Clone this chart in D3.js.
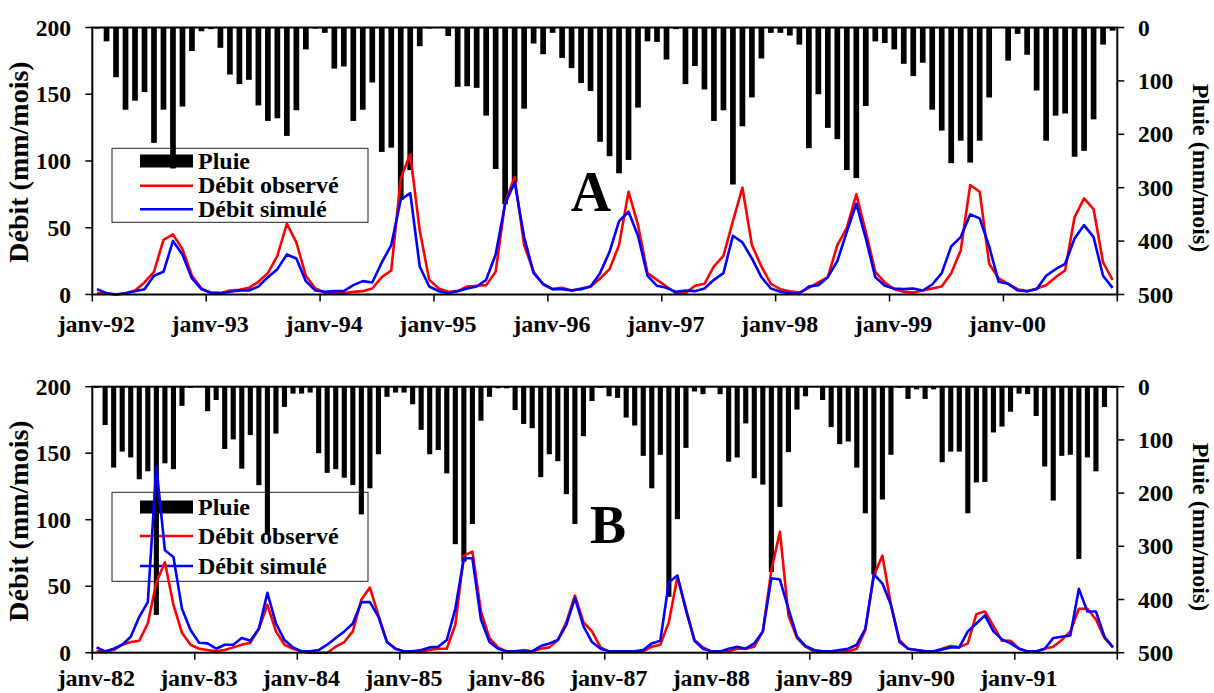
<!DOCTYPE html>
<html>
<head>
<meta charset="utf-8">
<script src="https://cdn.jsdelivr.net/npm/d3@7"></script>
<style>
  body { margin: 0; background: #fff; }
  svg { display: block; }
  text { font-family: "Liberation Serif", "Times New Roman", serif; font-weight: bold; fill: #000; }
</style>
</head>
<body>
<svg id="chart" width="1214" height="693"></svg>
<script>
// ---- Panel A : janv-92 .. déc-00 (monthly) ----
const yearLabelsA = ['janv-92', 'janv-93', 'janv-94', 'janv-95', 'janv-96', 'janv-97', 'janv-98', 'janv-99', 'janv-00'];

const rainA = [
  2, 26, 93, 154, 137, 121, 216, 154, 264, 148, 44, 7,
  3, 38, 88, 106, 98, 146, 175, 170, 203, 155, 41, 2,
  10, 77, 73, 175, 154, 103, 233, 225, 323, 267, 35, 2,
  1, 16, 111, 110, 113, 165, 265, 331, 290, 152, 30, 50,
  10, 57, 76, 104, 119, 214, 241, 273, 248, 150, 26, 27,
  60, 3, 106, 72, 116, 175, 155, 294, 185, 131, 58, 10,
  10, 15, 32, 226, 125, 188, 209, 267, 282, 147, 26, 29,
  41, 68, 91, 66, 154, 193, 254, 212, 253, 212, 131, 1,
  62, 12, 51, 118, 212, 165, 161, 242, 231, 172, 32, 6
];

const obsA = [
  1, 1, 0, 1, 3, 9, 17, 41, 45, 34, 14, 4.5,
  1, 1, 3, 3.5, 5, 9.5, 16, 29, 53, 39, 14, 4.5,
  1.5, 1, 1, 2, 2.5, 4.5, 13, 18, 87, 105, 48, 11,
  4.5, 2, 2.5, 6, 6.5, 7, 17, 69, 88, 37, 17, 7.5,
  4, 5, 3, 4.5, 6, 12, 19, 37, 77, 52, 16, 11,
  6, 1, 1, 6.5, 8, 21, 29, 55, 80, 37, 21, 8,
  4, 2.5, 1.5, 5, 9, 13, 37, 50, 75, 47, 17, 9,
  4, 2, 1.5, 3, 4.5, 6, 16, 33, 82, 77, 23, 12,
  8, 4, 2.5, 4.5, 7, 13, 18, 58, 72, 64, 24, 11
];

const simA = [
  4, 1, 0, 1, 2.5, 4, 14, 17, 40, 30, 12, 4,
  1.5, 1, 2, 3, 3, 6, 13, 19, 30, 27, 10, 3,
  2, 2.5, 2.5, 7, 10, 9, 24, 37, 71, 76, 21, 6,
  2.5, 1, 2.5, 4.5, 6, 11, 30, 68, 84, 43, 16, 8,
  4, 4, 3, 4, 6, 16, 32, 55, 62, 44, 14, 6.5,
  5, 2, 3, 2.5, 4.5, 11, 16, 44, 39, 27, 13, 4.5,
  2, 1, 0.5, 6, 7, 13, 25, 47, 68, 42, 13, 6.5,
  4.5, 4, 4.5, 3, 7.5, 16, 36, 43, 60, 57, 36, 9.5,
  8, 3, 2.5, 4, 14, 19, 23, 42, 52, 43, 14, 5
];

// ---- Panel B : janv-82 .. déc-91 (monthly) ----
const yearLabelsB = ['janv-82', 'janv-83', 'janv-84', 'janv-85', 'janv-86', 'janv-87', 'janv-88', 'janv-89', 'janv-90', 'janv-91'];

const rainB = [
  2, 72, 152, 122, 133, 174, 159, 429, 144, 155, 36, 2,
  0, 46, 25, 117, 99, 154, 91, 185, 278, 88, 38, 13,
  13, 11, 125, 162, 155, 171, 185, 240, 191, 127, 19, 11,
  11, 33, 81, 127, 119, 163, 296, 329, 258, 64, 19, 3,
  3, 44, 70, 78, 170, 127, 140, 202, 258, 93, 27, 2,
  18, 21, 58, 73, 130, 191, 128, 395, 249, 115, 9, 14,
  1, 14, 141, 133, 69, 172, 184, 348, 226, 123, 43, 18,
  0, 25, 76, 108, 103, 152, 238, 353, 212, 128, 2, 23,
  5, 23, 5, 142, 122, 122, 238, 180, 179, 86, 75, 47,
  13, 14, 55, 150, 214, 130, 128, 324, 133, 159, 38, 2
];

const obsB = [
  1, 1, 2, 6, 8, 9, 22, 53, 68, 36, 15, 6,
  3, 2, 1, 2, 4, 6, 7.5, 18, 36, 16, 6, 3,
  1, 0, 0, 0, 4.5, 8, 16, 40, 49, 28, 8, 3,
  1, 1, 1, 2, 3, 3, 21, 73, 76, 31, 11, 4,
  1, 1, 2, 1, 3, 4, 9.5, 23, 43, 23, 16, 4,
  1, 1, 1, 1, 1, 4.5, 6, 23, 57, 33, 9.5, 4,
  1, 1, 1, 3, 3, 4.5, 16, 62, 91, 28, 11, 4.5,
  1, 1, 1, 1, 1, 3, 17, 58, 73, 36, 9.5, 3,
  2, 1, 1, 3, 5, 4, 7, 29, 31, 20, 9, 9,
  3, 1, 1, 3, 4.5, 9.5, 16, 33, 33, 25, 11, 4
];

const simB = [
  4, 1, 3, 6, 12, 27, 38, 140, 77, 72, 33, 17,
  7.5, 7, 3, 6, 6, 11, 9, 18, 45, 22, 9.5, 4,
  1, 1, 2, 6, 11, 16, 22, 38, 38, 27, 8, 3,
  1, 1, 2, 4, 4.5, 9.5, 33, 71, 71, 25, 8, 3,
  1, 1, 1, 1, 5, 7, 9.5, 21, 41, 20, 8, 3,
  1, 1, 1, 1, 2, 7, 9, 53, 58, 32, 9, 3,
  1, 1, 3, 4.5, 3, 7, 16, 56, 55, 33, 12, 5,
  2, 1, 1, 2, 3, 6, 18, 59, 52, 36, 8, 3,
  2, 1, 1, 2.5, 4, 4, 16, 22, 28, 16, 10, 7,
  3, 1, 1, 3, 11, 12, 13, 48, 31, 31, 12, 4
];

const debitTicks = [0, 50, 100, 150, 200];
const pluieTicks = [0, 100, 200, 300, 400, 500];
const legendLabels = ['Pluie', 'Débit observé', 'Débit simulé'];

const svg = d3.select('#chart');
const LEFT = 92.3, RIGHT = 1117.3;

function drawPanel(p) {
  const g = svg.append('g');
  const n = p.rain.length;

  const x = d3.scaleBand().domain(d3.range(n)).range([LEFT, RIGHT]).padding(0);
  const yQ = d3.scaleLinear().domain([0, 200]).range([p.bottom, p.top]);
  const yP = d3.scaleLinear().domain([0, 500]).range([p.top, p.bottom]);
  const cx = i => x(i) + x.bandwidth() / 2;
  const barW = x.bandwidth() * 0.6;

  // legend (drawn first, marks go over it like in the original)
  const lg = g.append('g');
  lg.append('rect')
    .attr('x', 112).attr('y', p.legend.top)
    .attr('width', 256).attr('height', p.legend.height)
    .attr('fill', 'none').attr('stroke', '#222').attr('stroke-width', 1);
  lg.append('rect')
    .attr('x', 140).attr('y', p.legend.rows[0] - 6.5)
    .attr('width', 53).attr('height', 13).attr('fill', '#000');
  lg.append('line')
    .attr('x1', 140).attr('x2', 193).attr('y1', p.legend.rows[1]).attr('y2', p.legend.rows[1])
    .attr('stroke', '#ff0000').attr('stroke-width', 2.6);
  lg.append('line')
    .attr('x1', 140).attr('x2', 193).attr('y1', p.legend.rows[2]).attr('y2', p.legend.rows[2])
    .attr('stroke', '#0000ff').attr('stroke-width', 2.6);
  lg.selectAll('text.leg')
    .data(legendLabels)
    .join('text')
    .attr('class', 'leg')
    .attr('x', 198)
    .attr('y', (d, i) => p.legend.rows[i] + 7.5)
    .attr('font-size', '24px')
    .text(d => d);

  // rain bars hanging from the top (reversed secondary axis)
  g.append('g')
    .selectAll('rect')
    .data(p.rain)
    .join('rect')
    .attr('x', (d, i) => cx(i) - barW / 2)
    .attr('y', p.top)
    .attr('width', barW)
    .attr('height', d => yP(d) - p.top)
    .attr('fill', '#000');

  // discharge lines
  const line = d3.line().x((d, i) => cx(i)).y(d => yQ(d));
  g.append('path').datum(p.obs)
    .attr('d', line).attr('fill', 'none')
    .attr('stroke', '#ff0000').attr('stroke-width', 2.6).attr('stroke-linejoin', 'round');
  g.append('path').datum(p.sim)
    .attr('d', line).attr('fill', 'none')
    .attr('stroke', '#0000ff').attr('stroke-width', 2.6).attr('stroke-linejoin', 'round');

  // frame
  g.append('rect')
    .attr('x', LEFT).attr('y', p.top)
    .attr('width', RIGHT - LEFT).attr('height', p.bottom - p.top)
    .attr('fill', 'none').attr('stroke', '#000').attr('stroke-width', 2);

  // left axis (Débit)
  g.append('g').selectAll('line')
    .data(debitTicks).join('line')
    .attr('x1', LEFT - 7).attr('x2', LEFT)
    .attr('y1', d => yQ(d)).attr('y2', d => yQ(d))
    .attr('stroke', '#000').attr('stroke-width', 1.5);
  g.append('g').selectAll('text')
    .data(debitTicks).join('text')
    .attr('x', 71).attr('y', d => yQ(d) + 8)
    .attr('text-anchor', 'end').attr('font-size', '23.5px')
    .text(d => d);

  // right axis (Pluie)
  g.append('g').selectAll('line')
    .data(pluieTicks).join('line')
    .attr('x1', RIGHT).attr('x2', RIGHT + 7)
    .attr('y1', d => yP(d)).attr('y2', d => yP(d))
    .attr('stroke', '#000').attr('stroke-width', 1.5);
  g.append('g').selectAll('text')
    .data(pluieTicks).join('text')
    .attr('x', 1138).attr('y', d => yP(d) + 8)
    .attr('font-size', '23.5px')
    .text(d => d);

  // x axis: tick at each January, label under it
  const janIdx = d3.range(0, n + 1, 12);
  g.append('g').selectAll('line')
    .data(janIdx).join('line')
    .attr('x1', i => i < n ? x(i) : RIGHT).attr('x2', i => i < n ? x(i) : RIGHT)
    .attr('y1', p.bottom).attr('y2', p.bottom + 7)
    .attr('stroke', '#000').attr('stroke-width', 1.5);
  g.append('g').selectAll('text')
    .data(p.years).join('text')
    .attr('x', (d, i) => x(i * 12) + 4)
    .attr('y', p.labelY)
    .attr('text-anchor', 'middle').attr('font-size', '24px')
    .text(d => d);

  // axis titles
  g.append('text')
    .attr('transform', `translate(27.5,${p.leftTitleY}) rotate(-90)`)
    .attr('text-anchor', 'middle').attr('font-size', '28px')
    .text('Débit (mm/mois)');
  g.append('text')
    .attr('transform', `translate(1193,${p.rightTitleY}) rotate(90)`)
    .attr('text-anchor', 'middle').attr('font-size', '24px')
    .text('Pluie (mm/mois)');

  // panel letter
  g.append('text')
    .attr('x', p.letterX).attr('y', p.letterY)
    .attr('text-anchor', 'middle').attr('font-size', p.letterSize)
    .text(p.letter);
}

drawPanel({
  rain: rainA, obs: obsA, sim: simA, years: yearLabelsA,
  top: 27.5, bottom: 294.5, labelY: 331.5,
  legend: { top: 148.3, height: 74, rows: [161, 185.7, 209.3] },
  leftTitleY: 162, rightTitleY: 168,
  letter: 'A', letterX: 591, letterY: 211, letterSize: '56px'
});

drawPanel({
  rain: rainB, obs: obsB, sim: simB, years: yearLabelsB,
  top: 386.7, bottom: 652.7, labelY: 686,
  legend: { top: 492.3, height: 89, rows: [507, 536, 566] },
  leftTitleY: 521, rightTitleY: 527,
  letter: 'B', letterX: 608, letterY: 543, letterSize: '54px'
});
</script>
</body>
</html>
